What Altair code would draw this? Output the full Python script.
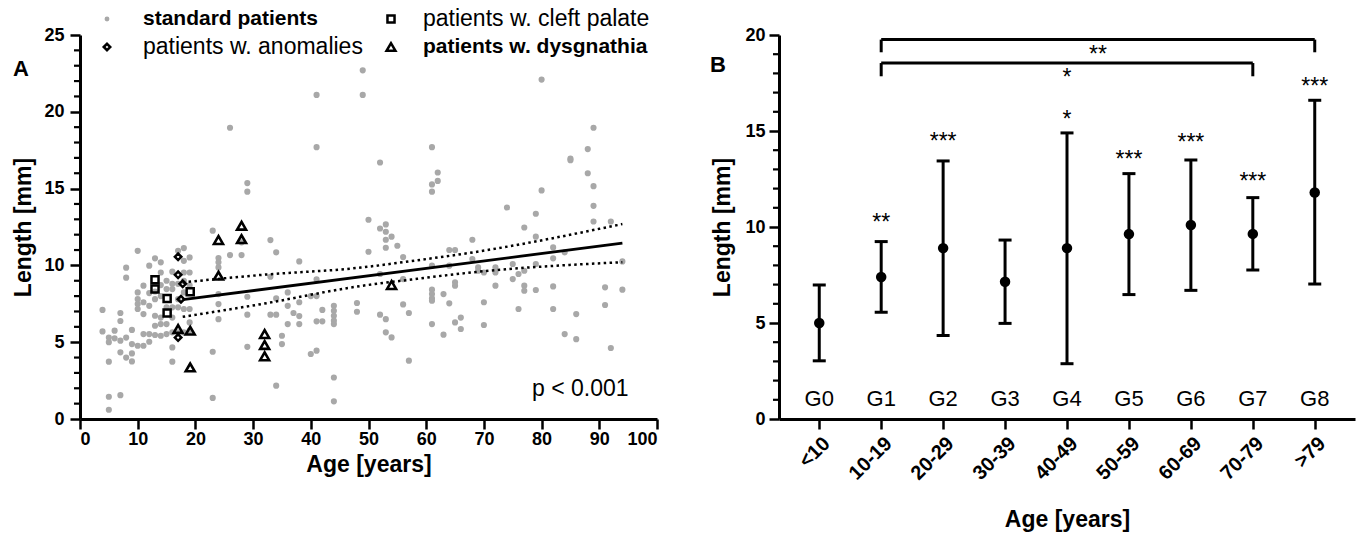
import altair as alt
import pandas as pd

FONT = "Liberation Sans"

# ---------------- Panel A data ----------------
std_age = [3.9, 3.9, 5, 5, 5, 5, 5, 6, 6, 7, 7, 7, 7, 7, 8, 8, 8, 8, 9, 9, 9, 9,
           10, 10, 10, 10, 10, 10, 11, 11, 11, 11, 11, 12, 12, 12, 12, 12,
           13, 13, 13, 13, 13, 13, 14, 14, 14, 14, 14, 14, 14, 15, 15, 15, 15, 15,
           16, 16, 16, 16, 16, 16, 16, 16, 17, 17, 17, 17, 17,
           18, 18, 18, 18, 18, 18, 18, 19, 19, 19, 19, 19, 19,
           23, 23, 23, 24, 24, 24, 24, 24, 24, 26, 26, 28, 28, 29, 29, 29, 29, 29,
           33, 33, 33, 34, 34, 34, 34, 35, 35, 36, 36, 36, 37, 38, 38, 38, 38,
           40, 40, 41, 41, 41, 41, 41, 41, 42, 42, 44, 44, 44, 44, 44, 44, 44, 48, 48, 49, 49,
           50, 50, 52, 52, 52, 52, 53, 53, 53, 53, 53, 53, 54, 54, 55, 56, 56, 56, 57, 57,
           61, 61, 61, 61, 61, 61, 61, 61, 61, 62, 62, 63, 63, 64, 64, 64, 65, 65, 65, 65,
           66, 66, 68, 68, 69, 69, 70, 70, 70, 72, 72, 72, 74, 75, 75, 76, 76,
           77, 77, 77, 77, 79, 79, 79, 79, 80, 80, 82, 82, 82, 82, 84, 84, 85, 85,
           86, 86, 88, 88, 89, 89, 89, 89, 91, 91, 92, 92, 94, 94]
std_len = [7.1, 5.7, 5.3, 5.0, 3.73, 1.45, 0.6, 5.25, 5.75, 6.9, 6.38, 5.1, 4.34, 1.55,
           9.85, 9.2, 5.3, 4.0, 5.8, 4.88, 4.27, 3.75,
           10.95, 8.24, 7.8, 7.48, 7.16, 4.77, 8.68, 7.6, 6.83, 5.53, 4.77,
           9.98, 8.2, 7.37, 5.53, 5.03,
           10.46, 8.3, 7.8, 6.72, 6.07, 5.47, 10.2, 9.54, 8.72, 8.0, 6.6, 6.18, 5.42,
           9.0, 8.46, 7.27, 6.18, 5.53,
           9.59, 8.8, 8.46, 7.27, 6.6, 5.64, 4.66, 3.73, 10.95, 8.8, 7.8, 7.27, 5.64,
           11.13, 10.3, 9.54, 9.0, 8.24, 7.16, 5.64, 10.52, 9.54, 8.7, 7.16, 6.29, 5.75,
           12.26, 4.38, 1.37, 10.48, 10.2, 9.87, 8.13, 7.48, 6.5, 18.96, 10.67, 11.5, 10.67,
           15.36, 14.8, 7.96, 6.79, 4.7,
           11.65, 9.26, 6.79, 10.85, 7.85, 6.79, 2.17, 5.42, 4.88, 8.24, 7.37, 6.18, 6.9,
           10.26, 7.6, 6.7, 6.18,
           8.0, 4.23, 21.1, 17.7, 9.1, 8.0, 6.36, 4.45, 7.1, 6.36,
           7.37, 7.05, 6.72, 6.4, 6.18, 2.7, 1.15, 7.55, 6.98, 22.7, 21.1,
           12.97, 10.89, 16.7, 12.4, 9.44, 6.79, 12.67, 12.19, 11.67, 11.15, 6.5, 5.64,
           11.87, 5.31, 11.28, 10.54, 9.11, 7.46, 6.9, 3.8,
           17.7, 15.27, 14.8, 9.98, 8.42, 8.13, 7.85, 7.7, 6.18, 16.05, 15.5, 8.13, 5.49,
           11.0, 9.98, 7.53, 11.0, 8.9, 8.68, 6.29,
           6.6, 5.86, 11.67, 10.41, 9.87, 9.65, 9.54, 7.6, 6.12, 9.87, 9.54, 8.68, 13.77,
           10.09, 9.11, 9.44, 7.16,
           12.47, 9.65, 8.68, 8.35, 13.36, 11.87, 10.09, 8.4, 22.1, 14.88,
           11.17, 10.46, 8.63, 7.16, 10.85, 5.53, 16.85, 16.95,
           6.83, 5.2, 17.57, 16.0, 18.96, 15.16, 13.88, 12.86, 8.57, 7.42, 12.86, 4.62,
           10.26, 8.42]

cleft_age = [13, 13, 15.1, 15.1, 19.1]
cleft_len = [9.07, 8.46, 7.85, 6.9, 8.29]
anom_age = [17, 17, 17.8, 17.5, 17]
anom_len = [10.56, 9.39, 8.8, 7.8, 5.3]
dys_age = [17, 19.1, 19.1, 24, 24, 28, 28, 32, 32, 32, 54]
dys_len = [5.86, 5.75, 3.36, 11.65, 9.33, 12.58, 11.71, 5.53, 4.82, 4.08, 8.72]

fit_age = [17.8, 94]
fit_len = [7.77, 11.45]
ci_age = [17.8, 31.4, 48.7, 57, 68.3, 94]
ci_upper = [8.89, 9.38, 9.86, 10.26, 10.86, 12.69]
ci_lower = [6.65, 7.48, 8.66, 9.06, 9.56, 10.21]

p_text = "p < 0.001"
p_pos = (86.7, 1.5)

legend_labels = ["standard patients", "patients w. cleft palate",
                 "patients w. anomalies", "patients w. dysgnathia"]

# ---------------- Panel B data ----------------
age_groups = ["<10", "10-19", "20-29", "30-39", "40-49", "50-59", "60-69", "70-79", ">79"]
group_names = ["G0", "G1", "G2", "G3", "G4", "G5", "G6", "G7", "G8"]
mean_len = [5.0, 7.4, 8.9, 7.15, 8.9, 9.63, 10.1, 9.64, 11.8]
low_len = [3.03, 5.56, 4.35, 4.98, 2.88, 6.48, 6.7, 7.76, 7.03]
high_len = [6.98, 9.24, 13.44, 9.32, 14.9, 12.78, 13.49, 11.53, 16.6]
stars = ["", "**", "***", "", "*", "***", "***", "***", "***"]
star_y = [None, 10.5, 14.76, None, 15.9, 13.8, 14.67, 12.67, 17.6]

br_from = [1, 1]
br_to = [8, 7]
br_top = [19.76, 18.54]
br_bottom = [19.1, 17.85]
br_label = ["**", "*"]
br_label_y = [19.27, 18.05]

# ---------------- common styling ----------------
axis_common = dict(domainColor="black", domainWidth=3, tickColor="black", tickWidth=2.5,
                   tickSize=10, labelFont=FONT, labelFontWeight="bold", labelColor="black",
                   titleFont=FONT, titleFontWeight="bold",
                   titleColor="black", titleFontSize=23, grid=False)
gray = "#a8a8a8"

# ---------------- Panel A ----------------
WA, HA = 577, 384
xA_scale = alt.Scale(domain=[0, 100], nice=False, zero=False)
yA_scale = alt.Scale(domain=[0, 25], nice=False)
xA_axis = alt.Axis(values=list(range(0, 101, 10)), title="Age [years]", labelFontSize=18,
                   labelPadding=1, titlePadding=5, **axis_common)
yA_axis = alt.Axis(values=[0, 5, 10, 15, 20, 25], title="Length [mm]", labelFontSize=18,
                   labelPadding=6, titlePadding=8, **axis_common)


def XA(f="age"):
    return alt.X(f"{f}:Q", scale=xA_scale, axis=xA_axis)


def YA(f="len"):
    return alt.Y(f"{f}:Q", scale=yA_scale, axis=yA_axis)


std_df = pd.DataFrame({"age": std_age, "len": std_len})
cleft_df = pd.DataFrame({"age": cleft_age, "len": cleft_len})
anom_df = pd.DataFrame({"age": anom_age, "len": anom_len})
dys_df = pd.DataFrame({"age": dys_age, "len": dys_len})
fit_df = pd.DataFrame({"age": fit_age, "len": fit_len})
ci_df = pd.concat([
    pd.DataFrame({"age": ci_age, "len": ci_upper, "band": "upper"}),
    pd.DataFrame({"age": ci_age, "len": ci_lower, "band": "lower"}),
])
minorA = pd.DataFrame({"len": [v for v in range(0, 26) if v % 5 != 0]})
p_df = pd.DataFrame({"age": [p_pos[0]], "len": [p_pos[1]], "t": [p_text]})

pts = alt.Chart(std_df).mark_circle(size=38, color=gray, opacity=1).encode(x=XA(), y=YA())
ci = alt.Chart(ci_df).mark_line(color="black", strokeWidth=2.5, strokeDash=[2.5, 3.4],
                                interpolate="monotone").encode(x=XA(), y=YA(), detail="band:N")
fit = alt.Chart(fit_df).mark_line(color="black", strokeWidth=2.8).encode(x=XA(), y=YA())
sq = alt.Chart(cleft_df).mark_point(shape="square", filled=False, size=50, strokeWidth=2.5,
                                    color="black", opacity=1).encode(x=XA(), y=YA())
dm = alt.Chart(anom_df).mark_point(shape="diamond", filled=False, size=42, strokeWidth=2.5,
                                   color="black", opacity=1).encode(x=XA(), y=YA())
tr = alt.Chart(dys_df).mark_point(shape="triangle-up", filled=False, size=80, strokeWidth=2.6,
                                  color="black", opacity=1).encode(x=XA(), y=YA())
minA = alt.Chart(minorA).mark_rule(color="black", strokeWidth=2.2).encode(
    y=YA(), x=alt.value(-6), x2=alt.value(0))
ptxt = alt.Chart(p_df).mark_text(font=FONT, fontSize=23, color="black", align="center",
                                 baseline="alphabetic").encode(x=XA(), y=YA(), text="t:N")

# legend (layout positions relative to the plot area)
leg_sym_x = [27, 311, 27, 311]
leg_sym_y = [-16, -16, 12, 12]
leg_txt_x = [63, 343, 63, 343]
leg_shapes = ["circle", "square", "diamond", "triangle-up"]
leg_weights = ["bold", "normal", "normal", "bold"]
leg_sizes = [21, 23, 23, 21]
legend_layers = []
for i, lab in enumerate(legend_labels):
    if leg_shapes[i] == "circle":
        sym = alt.Chart(pd.DataFrame({"k": [0]})).mark_circle(size=24, color=gray, opacity=1)
    else:
        sz = {"square": 50, "diamond": 42, "triangle-up": 80}[leg_shapes[i]]
        sym = alt.Chart(pd.DataFrame({"k": [0]})).mark_point(
            shape=leg_shapes[i], filled=False, size=sz, strokeWidth=2.5, color="black", opacity=1)
    legend_layers.append(sym.encode(x=alt.value(leg_sym_x[i]), y=alt.value(leg_sym_y[i])))
    legend_layers.append(
        alt.Chart(pd.DataFrame({"t": [lab]})).mark_text(
            font=FONT, fontSize=leg_sizes[i], fontWeight=leg_weights[i], color="black",
            align="left", baseline="middle").encode(
            x=alt.value(leg_txt_x[i]), y=alt.value(leg_sym_y[i]), text="t:N"))

labA = alt.Chart(pd.DataFrame({"t": ["A"]})).mark_text(
    font=FONT, fontSize=22, fontWeight="bold", color="black", align="center",
    baseline="middle").encode(x=alt.value(-59), y=alt.value(34), text="t:N")

panelA = alt.layer(pts, ci, fit, sq, dm, tr, minA, ptxt, labA, *legend_layers).properties(
    width=WA, height=HA)

# ---------------- Panel B ----------------
WB, HB = 576, 384
xB_scale = alt.Scale(domain=[-0.65, 8.65], nice=False, zero=False)
yB_scale = alt.Scale(domain=[0, 20], nice=False)
label_js = "[" + ",".join("'" + g + "'" for g in age_groups) + "]"
xB_axis = alt.Axis(values=list(range(len(age_groups))), labelExpr=f"{label_js}[datum.value]",
                   title="Age [years]", labelAngle=315, labelAlign="right", labelBaseline="top",
                   labelFontSize=20, labelPadding=4, titlePadding=25, **axis_common)
yB_axis = alt.Axis(values=[0, 5, 10, 15, 20], title="Length [mm]", labelFontSize=18,
                   labelPadding=4, titlePadding=10, **axis_common)


def XB(f="idx"):
    return alt.X(f"{f}:Q", scale=xB_scale, axis=xB_axis)


def YB(f="len"):
    return alt.Y(f"{f}:Q", scale=yB_scale, axis=yB_axis)


idx = list(range(len(age_groups)))
grp_df = pd.DataFrame({"idx": idx, "mean": mean_len, "lo": low_len, "hi": high_len,
                       "g": group_names, "star": stars, "sy": star_y})
caps_df = pd.DataFrame({"idx": idx + idx, "len": low_len + high_len})
star_df = grp_df[grp_df["star"] != ""]
g_df = pd.DataFrame({"idx": idx, "g": group_names, "len": [1.04] * len(idx)})
br_df = pd.DataFrame({"x1": br_from, "x2": br_to, "top": br_top, "bot": br_bottom,
                      "lab": br_label, "ly": br_label_y})
br_df["mid"] = (br_df["x1"] + br_df["x2"]) / 2
br_v = pd.DataFrame({"idx": br_from + br_to, "top": br_top + br_top, "bot": br_bottom + br_bottom})
minorB = pd.DataFrame({"len": [v for v in range(0, 21) if v % 5 != 0]})

err = alt.Chart(grp_df).mark_rule(color="black", strokeWidth=3).encode(
    x=XB(), y=YB("lo"), y2="hi:Q")
caps = alt.Chart(caps_df).mark_tick(color="black", thickness=3, size=13, opacity=1,
                                    orient="horizontal").encode(x=XB(), y=YB())
means = alt.Chart(grp_df).mark_circle(color="black", size=110, opacity=1).encode(
    x=XB(), y=YB("mean"))
startxt = alt.Chart(star_df).mark_text(font=FONT, fontSize=23, color="black", align="center",
                                       baseline="middle", dy=6).encode(
    x=XB(), y=YB("sy"), text="star:N")
gtxt = alt.Chart(g_df).mark_text(font=FONT, fontSize=22, color="black", align="center",
                                 baseline="middle").encode(x=XB(), y=YB(), text="g:N")
brh = alt.Chart(br_df).mark_rule(color="black", strokeWidth=3).encode(
    x=XB("x1"), x2="x2:Q", y=YB("top"))
brv = alt.Chart(br_v).mark_rule(color="black", strokeWidth=3).encode(
    x=XB(), y=YB("bot"), y2="top:Q")
brt = alt.Chart(br_df).mark_text(font=FONT, fontSize=23, color="black", align="center",
                                 baseline="middle", dy=6).encode(
    x=XB("mid"), y=YB("ly"), text="lab:N")
minB = alt.Chart(minorB).mark_rule(color="black", strokeWidth=2.2).encode(
    y=YB(), x=alt.value(-6), x2=alt.value(0))
labB = alt.Chart(pd.DataFrame({"t": ["B"]})).mark_text(
    font=FONT, fontSize=22, fontWeight="bold", color="black", align="center",
    baseline="middle").encode(x=alt.value(-61), y=alt.value(30), text="t:N")

panelB = alt.layer(err, caps, means, startxt, gtxt, brh, brv, brt, minB, labB).properties(
    width=WB, height=HB)

chart = alt.hconcat(panelA, panelB, spacing=122, bounds="flush").properties(
    padding={"left": 12, "top": 8, "right": 2, "bottom": 0},
    background="white",
).configure_view(stroke=None)

chart.save("out.html", embed_options={"renderer": "svg", "actions": False})
